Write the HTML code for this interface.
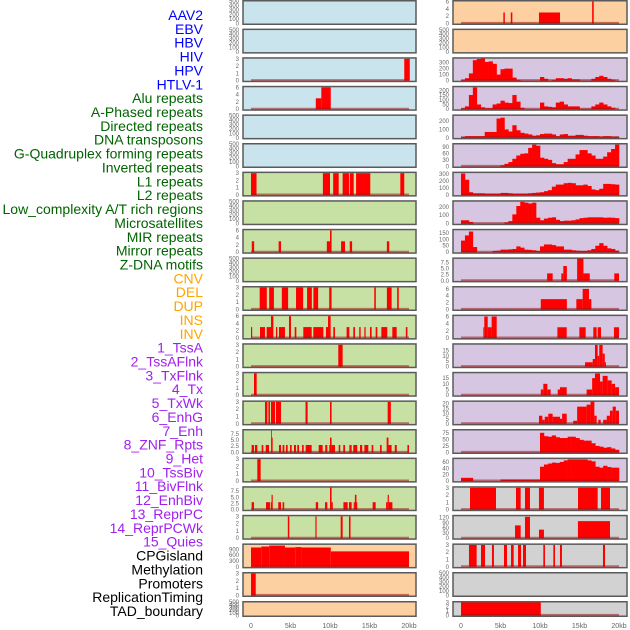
<!DOCTYPE html>
<html><head><meta charset="utf-8"><style>
body{margin:0;width:630px;height:630px;background:#fff;overflow:hidden;font-family:"Liberation Sans",sans-serif}
svg{position:absolute;left:0;top:0}
</style></head><body>
<svg id="chart" width="630" height="630"></svg>
<script>
// ---- labels ----
const trackLabels=["AAV2","EBV","HBV","HIV","HPV","HTLV-1","Alu repeats","A-Phased repeats","Directed repeats","DNA transposons","G-Quadruplex forming repeats","Inverted repeats","L1 repeats","L2 repeats","Low_complexity A/T rich regions","Microsatellites","MIR repeats","Mirror repeats","Z-DNA motifs","CNV","DEL","DUP","INS","INV","1_TssA","2_TssAFlnk","3_TxFlnk","4_Tx","5_TxWk","6_EnhG","7_Enh","8_ZNF_Rpts","9_Het","10_TssBiv","11_BivFlnk","12_EnhBiv","13_ReprPC","14_ReprPCWk","15_Quies","CPGisland","Methylation","Promoters","ReplicationTiming","TAD_boundary"];
const labelGroupColors=["#0000ff","#006400","#ffa500","#a020f0","#000000"];
const labelGroupSizes=[6,13,5,15,5];
const xTickLabels=["0","5kb","10kb","15kb","20kb"];
const xTickValues=[0,5,10,15,20];

// ---- middle column data (segments [startKb,endKb,value]) ----
const midR2=[[19.4,20.1,3]];
const midR3=[[8.2,8.9,3],[8.9,10.1,6]];
const midR6=[[0,0.7,3],[9.1,10,3],[10.4,11.1,3],[11.6,12.4,3],[12.5,13,3],[13.3,15.1,3],[18.9,19.4,3]];
const midR8=[[0.1,0.4,3],[3.5,3.8,3],[9.6,10.0,3],[10.0,10.2,6],[11.4,11.9,3],[12.5,12.8,3],[17.2,17.5,3]];
const midR10=[[1.1,2.0,3],[2.3,2.9,3],[3.9,4.7,3],[5.7,6.6,3],[7.1,7.7,3],[7.9,8.5,3],[9.9,10.2,3],[15.6,15.8,3],[17.2,17.8,3],[18.5,18.7,3]];
const midR11=[[0,0.15,3],[1.14,1.77,3],[1.98,2.53,3],[2.53,2.83,6],[3.16,3.33,3],[3.54,4.3,3],[4.81,5.06,6],[5.53,5.74,3],[6.62,7.68,3],[7.89,9.16,3],[9.49,9.75,3],[9.75,10.08,6],[10.42,10.63,3],[12.1,12.45,3],[12.95,13.16,3],[13.7,13.88,3],[14.35,14.51,3],[15.06,15.27,3],[15.78,15.99,3],[16.5,17.25,3],[17.89,18.44,3],[19.6,19.8,3]];
const midR12=[[11.05,11.6,3]];
const midR13=[[0.38,0.72,3]];
const midR14=[[1.77,2.07,3],[2.2,2.4,3],[2.53,3.04,3],[3.16,3.8,3],[6.9,7.17,3],[10.0,10.2,3],[17.3,17.7,3]];
const midR15=[[0.08,0.38,3],[0.5,0.8,3],[1.35,1.56,3],[1.86,2.28,3],[2.53,2.62,9],[2.62,2.74,6],[3.54,3.8,3],[4.0,4.22,3],[4.43,4.64,3],[4.94,5.15,3],[5.44,5.7,3],[5.86,6.08,3],[6.46,6.67,3],[6.92,7.68,3],[8.57,9.07,3],[9.4,9.66,3],[9.91,10.0,3],[10.0,10.2,6],[10.2,10.63,3],[11.1,11.3,3],[11.68,11.9,3],[12.45,12.74,3],[12.95,13.45,3],[13.8,14.08,3],[14.35,14.85,3],[15.27,15.48,3],[16.33,16.54,3],[17.17,17.4,6],[17.4,17.8,3],[18.2,18.45,3],[19.8,20,3]];
const midR16=[[0.8,1.22,3]];
const midR17=[[0.08,0.38,3],[1.9,2.4,3],[2.5,2.6,3],[2.6,2.75,6],[3.45,3.8,3],[4.0,4.2,3],[8.2,8.5,3],[9.37,9.66,3],[10.0,10.2,9],[10.2,10.35,3],[11.7,12.24,3],[12.4,12.74,3],[13.0,13.15,3],[13.15,13.35,6],[13.35,13.45,3],[15.4,15.78,3],[17.1,17.3,3],[17.3,17.45,6],[17.45,17.9,3]];
const midR18=[[4.66,4.85,3],[8.15,8.3,3],[11.35,11.6,3],[12.4,12.6,3]];
const midR19=[[0,1.3,1000],[1.3,2.3,1050],[2.3,4.3,1100],[4.3,5.6,1000],[5.6,6.4,1020],[6.4,10.1,1000],[10.1,20,800]];
const midR20=[[0,0.6,3]];

// ---- right column data ----
const rgtR0=[[5.36,5.55,3],[6.3,6.5,3],[9.87,12.53,3],[16.6,16.8,6]];
const rgtR2=[10,40,120,340,360,370,310,320,280,100,190,200,200,50,10,0,0,0,0,0,60,30,0,10,40,40,30,40,20,20,0,0,0,30,60,80,60,30,15,0];
const rgtR3=[10,30,150,230,50,20,10,10,50,60,90,70,65,150,80,15,0,0,0,0,70,30,25,20,70,80,50,30,30,30,5,5,5,30,50,70,50,30,15,0];
const rgtR4=[10,20,20,20,20,20,70,70,70,230,240,100,75,150,90,60,50,40,25,30,45,50,50,40,20,40,45,25,25,35,35,25,20,20,20,15,20,20,15,15];
const rgtR5=[0,0,0,0,0,0,0,0,0,0,5,12,20,35,50,58,60,85,100,95,40,35,30,15,10,10,20,35,35,55,75,75,60,50,35,35,45,65,80,100];
const rgtR6=[310,220,40,25,25,25,20,20,20,20,30,30,25,20,20,20,20,25,30,35,40,55,70,120,150,150,170,175,170,140,140,150,130,80,70,90,160,160,155,150];
const rgtR7=[40,40,20,0,0,0,0,0,0,0,0,15,30,110,210,260,250,240,250,70,40,60,70,75,45,30,35,35,40,50,65,70,75,75,75,75,70,72,70,65];
const rgtR8=[90,130,160,40,0,0,0,0,10,12,20,20,22,25,45,35,20,18,15,10,45,60,60,55,45,45,20,20,15,12,10,10,15,25,50,70,50,30,25,12];
const rgtR9=[[10.9,11.6,3],[12.7,12.95,3],[12.95,13.4,6],[14.7,15.5,9],[15.5,16.3,3],[19.4,20,3]];
const rgtR10=[[10.1,13.4,3],[14.6,15.4,3],[15.4,16.2,6],[16.2,16.5,3]];
const rgtR11=[[2.83,2.95,3],[2.95,3.38,6],[3.38,3.88,3],[3.88,4.52,6],[12.2,13.38,3],[14.98,15.78,3],[16.75,17.17,3],[17.3,17.72,3],[19.36,20,3]];
const rgtR12=[[15.7,16.67,4],[16.67,16.96,7],[16.96,17.3,20],[17.3,17.5,10],[17.5,17.93,20],[17.93,18.2,12],[18.2,18.35,4]];
const rgtR13=[[10.1,10.42,5],[10.42,10.93,10],[10.93,11.35,5],[12.24,12.53,5],[12.53,13.38,7],[15.9,16.6,5],[16.6,16.96,15],[16.96,17.6,19],[17.6,17.93,12],[17.93,18.56,17],[18.56,19.07,13],[19.07,19.5,10],[19.5,20,7]];
const rgtR14=[[9.87,10.3,8],[10.3,10.6,4],[10.6,11.05,7],[11.05,11.6,10],[11.6,12.53,7],[12.53,12.8,5],[12.8,13.38,10],[14.2,14.7,3],[14.7,15.9,17],[15.9,16.4,19],[16.4,16.88,22],[16.88,17.17,8],[17.38,17.68,4],[18.0,18.45,4],[18.45,18.85,8],[18.85,19.2,13],[19.2,19.6,17],[19.6,20,13]];
const rgtR15=[0,0,0,0,0,0,0,0,0,0,0,0,0,0,0,0,0,0,0,0,75,62,60,65,58,55,55,60,60,55,48,45,45,35,25,22,18,20,15,10];
const rgtR16=[10,10,10,0,0,0,0,0,0,0,5,5,5,5,5,5,5,5,5,5,45,52,55,58,57,60,65,68,68,68,68,68,65,62,45,42,48,44,42,42];
const rgtR17=[[1.14,4.43,3],[6.96,7.55,3],[8.1,8.73,3],[9.87,10.5,3],[14.81,17.3,3],[17.72,18.86,3]];
const rgtR18=[[6.84,7.55,75],[8.1,8.73,125],[9.87,10.5,50],[14.8,18.86,100]];
const rgtR19=[[1.01,1.98,3],[2.53,3.04,3],[3.92,4.17,3],[5.44,5.82,3],[6.33,6.67,3],[7.22,7.6,3],[7.85,8.23,3],[10.42,10.63,3],[11.69,11.9,3],[12.53,12.78,3],[17.97,18.23,3]];
const rgtR21=[[0,10.1,3]];

// ---- tick sets ----
const t500=[0,100,200,300,400,500], t3=[0,1,2,3], t6=[0,2,4,6], t75=[0,2.5,5,7.5];
const BLUE="#c9e4ec",GREEN="#c7e1a4",ORANGE="#fdd0a2",PURPLE="#d6c6e2",GREY="#d2d2d2";
// panel list: [seriesName, data, kind, ymax, ticks, bg, tickFmt]
const midPanels=[
 ["aav2",null,"seg",500,t500,BLUE],["ebv",null,"seg",500,t500,BLUE],["hiv",midR2,"seg",3.05,t3,BLUE],["htlv",midR3,"seg",6.1,t6,BLUE],
 ["a-phased",null,"seg",500,t500,BLUE],["dna-transposons",null,"seg",500,t500,BLUE],["inverted",midR6,"seg",3.05,t3,GREEN],["l2",null,"seg",500,t500,GREEN],
 ["microsatellites",midR8,"seg",6.1,t6,GREEN],["mirror",null,"seg",500,t500,GREEN],["cnv",midR10,"seg",3.05,t3,GREEN],["dup",midR11,"seg",6.1,t6,GREEN],
 ["inv",midR12,"seg",3.05,t3,GREEN],["tssaflnk",midR13,"seg",3.05,t3,GREEN],["tx",midR14,"seg",3.05,t3,GREEN],["enhg",midR15,"seg",9,t75,GREEN,1],
 ["znf",midR16,"seg",3.05,t3,GREEN],["tssbiv",midR17,"seg",9,t75,GREEN,1],["enhbiv",midR18,"seg",3.05,t3,GREEN],["reprpcwk",midR19,"seg",1150,[0,300,600,900],ORANGE],
 ["methylation",midR20,"seg",3.05,t3,ORANGE],["replication",null,"seg",500,t500,ORANGE]];
const rgtPanels=[
 ["aav2-r",rgtR0,"seg",6.1,t6,ORANGE],["hbv",null,"seg",500,t500,ORANGE],["hpv",rgtR2,"bin",370,[0,100,200,300],PURPLE],["alu",rgtR3,"bin",235,[0,50,100,150,200],PURPLE],
 ["directed",rgtR4,"bin",265,[0,100,200],PURPLE],["g-quad",rgtR5,"bin",102,[0,30,60,90],PURPLE],["l1",rgtR6,"bin",320,[0,100,200,300],PURPLE],["low-complexity",rgtR7,"bin",265,[0,100,200],PURPLE],
 ["mir",rgtR8,"bin",172,[0,50,100,150],PURPLE],["z-dna",rgtR9,"seg",9,t75,PURPLE,1],["del",rgtR10,"seg",6.5,t6,PURPLE],["ins",rgtR11,"seg",6.2,t6,PURPLE],
 ["tssa",rgtR12,"seg",20.5,[0,5,10,15],PURPLE],["txflnk",rgtR13,"seg",19.5,[0,5,10,15],PURPLE],["txwk",rgtR14,"seg",22,[0,5,10,15,20],PURPLE],["enh",rgtR15,"bin",85,[0,25,50,75],PURPLE],
 ["het",rgtR16,"bin",70,[0,20,40,60],PURPLE],["bivflnk",rgtR17,"seg",3.05,t3,GREY],["reprpc",rgtR18,"seg",130,[0,30,60,90,120],GREY],["quies",rgtR19,"seg",3.05,t3,GREY],
 ["promoters",null,"seg",500,t500,GREY],["tad",rgtR21,"seg",3.05,t3,GREY]];

const NS="http://www.w3.org/2000/svg";
const svg=document.getElementById('chart');
function mk(tag,attrs,parent){const e=document.createElementNS(NS,tag);for(const k in attrs)e.setAttribute(k,attrs[k]);(parent||svg).appendChild(e);return e;}

// labels
let li=0;
labelGroupSizes.forEach((n,g)=>{for(let k=0;k<n;k++){const t=mk('text',{x:203,y:15+13.86*li+5,'text-anchor':'end','font-size':14,fill:labelGroupColors[g],'font-family':'"Liberation Sans",sans-serif'});
t.textContent=trackLabels[li];


li++;}});

function drawColumn(panels,px0,px1,x0kb,col){
 const xs=kb=>x0kb+kb*7.9;
 panels.forEach((p,i)=>{
  const top=i<21?i*28.6:601, h=i<21?25:16;
  const g=mk('g',{});
  
  
  const bg=mk('rect',{x:px0,y:top+0.75,width:px1-px0,height:h-1.5,fill:p[5],stroke:'#5a5a5a','stroke-width':1.5},g);
  
  
  const y0=top+h-1.6, yt=top+1.2;
  const ys=v=>y0-(v/p[3])*(y0-yt);
  p[4].forEach(tv=>{const t=mk('text',{x:px0-4,y:ys(tv)+2,'text-anchor':'end','font-size':6,fill:'#666'},g);
   t.textContent=p[6]?tv.toFixed(1):String(tv);
   
   });
  if(!p[1])return;
  const mark=mk('g',{fill:'#ff0000'},g);
  
  
  if(p[2]==="seg"){
   p[1].forEach(s=>{const r=mk('rect',{x:xs(s[0]),y:ys(s[2]),width:Math.max(0.8,xs(s[1])-xs(s[0])),height:y0-ys(s[2])},mark);
    
    });
  }else{
   p[1].forEach((v,k)=>{if(v<=0)return;const r=mk('rect',{x:xs(k*0.5),y:ys(v),width:xs(0.5)-xs(0)+0.3,height:y0-ys(v)},mark);
    
    });
  }
  const bl=mk('line',{x1:xs(0),x2:xs(20),y1:y0-0.5,y2:y0-0.5,stroke:'rgba(160,20,20,0.55)','stroke-width':2},g);
  
  
 });
 xTickValues.forEach((v,k)=>{const t=mk('text',{x:xs(v),y:628,'text-anchor':'middle','font-size':7,fill:'#666'});
  t.textContent=xTickLabels[k];
  
  });
}
drawColumn(midPanels,243,416,251,'mid');
drawColumn(rgtPanels,453,627,461,'right');
</script>
</body></html>
